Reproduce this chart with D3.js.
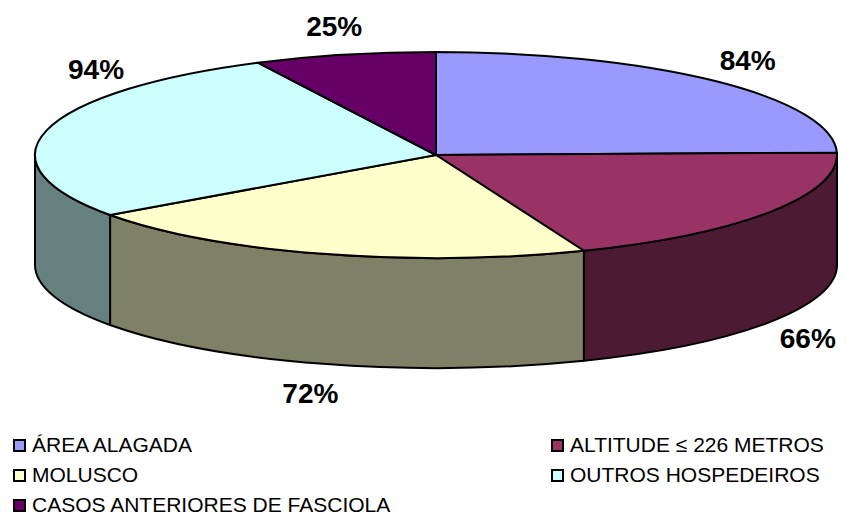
<!DOCTYPE html>
<html>
<head>
<meta charset="utf-8">
<script src="https://cdn.jsdelivr.net/npm/d3@7"></script>
<style>
  html, body { margin: 0; padding: 0; background: #ffffff; }
  svg { display: block; }
</style>
</head>
<body>
<svg id="chart" width="846" height="517"></svg>
<script>
// ---- data ----
const categories = ["ÁREA ALAGADA", "ALTITUDE ≤ 226 METROS", "MOLUSCO", "OUTROS HOSPEDEIROS", "CASOS ANTERIORES DE FASCIOLA"];
const values = [84, 66, 72, 94, 25];
const valueLabels = ["84%", "66%", "72%", "94%", "25%"];
const colors = ["#9999FF", "#993366", "#FFFFCC", "#CCFFFF", "#660066"];

// ---- layout ----
const W = 846, H = 517;
const cx = 436, cy = 155, rx = 401, ry = 103, depth = 110;
const svg = d3.select("#chart");

const pie = d3.pie().sort(null).value(d => d).startAngle(0).endAngle(2 * Math.PI);
const arcs = pie(values).map((a, i) => ({ ...a, i }));

const P = (t, dz = 0) => [cx + rx * Math.sin(t), cy - ry * Math.cos(t) + dz];
const shade = c => { const k = d3.rgb(c); return d3.rgb(k.r / 2, k.g / 2, k.b / 2).formatHex(); };

const gSides = svg.append("g");
const gTops = svg.append("g");

// side walls (front half only: angles between PI/2 and 3PI/2)
arcs.forEach(a => {
  const s0 = Math.max(a.startAngle, Math.PI / 2);
  const s1 = Math.min(a.endAngle, 3 * Math.PI / 2);
  if (s1 <= s0) return;
  const p0 = P(s0), p1 = P(s1), q1 = P(s1, depth), q0 = P(s0, depth);
  const lg = (s1 - s0) > Math.PI ? 1 : 0;
  const d = `M${p0}A${rx},${ry} 0 ${lg} 1 ${p1}L${q1}A${rx},${ry} 0 ${lg} 0 ${q0}Z`;
  gSides.append("path")
    .attr("d", d)
    .attr("fill", shade(colors[a.i]))
    .attr("stroke", "#000")
    .attr("stroke-width", 2)
    .attr("stroke-linejoin", "round");
});

// top faces
arcs.forEach(a => {
  const p0 = P(a.startAngle), p1 = P(a.endAngle);
  const lg = (a.endAngle - a.startAngle) > Math.PI ? 1 : 0;
  const d = `M${cx},${cy}L${p0}A${rx},${ry} 0 ${lg} 1 ${p1}Z`;
  gTops.append("path")
    .attr("d", d)
    .attr("fill", colors[a.i])
    .attr("stroke", "#000")
    .attr("stroke-width", 2)
    .attr("stroke-linejoin", "round");
});

// data labels (outside end, kept inside chart by sliding along the ellipse)
const rxL = 418, ryL = 122, hw = 28, hh = 11, padL = 67, padR = 4;
function labelPos(t) {
  const c = Math.cos(t), s = Math.sin(t);
  const dz = c < 0 ? depth : 0;
  return [cx + rxL * s + hw * s, cy - ryL * c - hh * c + dz];
}
const gLab = svg.append("g")
  .attr("font-family", "'Liberation Sans', Arial, Helvetica, sans-serif")
  .attr("font-weight", "bold")
  .attr("font-size", 28)
  .attr("text-anchor", "middle");
arcs.forEach(a => {
  let t = (a.startAngle + a.endAngle) / 2;
  let p = labelPos(t);
  const toward = Math.cos(t) >= 0 ? (Math.sin(t) < 0 ? 1 : -1) : (Math.sin(t) < 0 ? -1 : 1);
  let guard = 0;
  while ((p[0] - hw < padL || p[0] + hw > W - padR) && guard < 400) {
    t += toward * 0.005;
    p = labelPos(t);
    guard++;
  }
  gLab.append("text")
    .attr("x", p[0])
    .attr("y", p[1] + 10)
    .text(valueLabels[a.i]);
});

// legend
const legX = [13, 551], legY0 = 452, legDy = 30;
const gLeg = svg.append("g")
  .attr("font-family", "'Liberation Sans', Arial, Helvetica, sans-serif")
  .attr("font-size", 21);
categories.forEach((name, i) => {
  const col = i % 2, row = Math.floor(i / 2);
  const x = legX[col], y = legY0 + row * legDy;
  gLeg.append("rect")
    .attr("x", x + 1).attr("y", y - 12)
    .attr("width", 11).attr("height", 11)
    .attr("fill", colors[i])
    .attr("stroke", "#000")
    .attr("stroke-width", 2);
  gLeg.append("text")
    .attr("x", x + 19).attr("y", y)
    .attr("fill", "#000")
    .text(name);
});
</script>
</body>
</html>
